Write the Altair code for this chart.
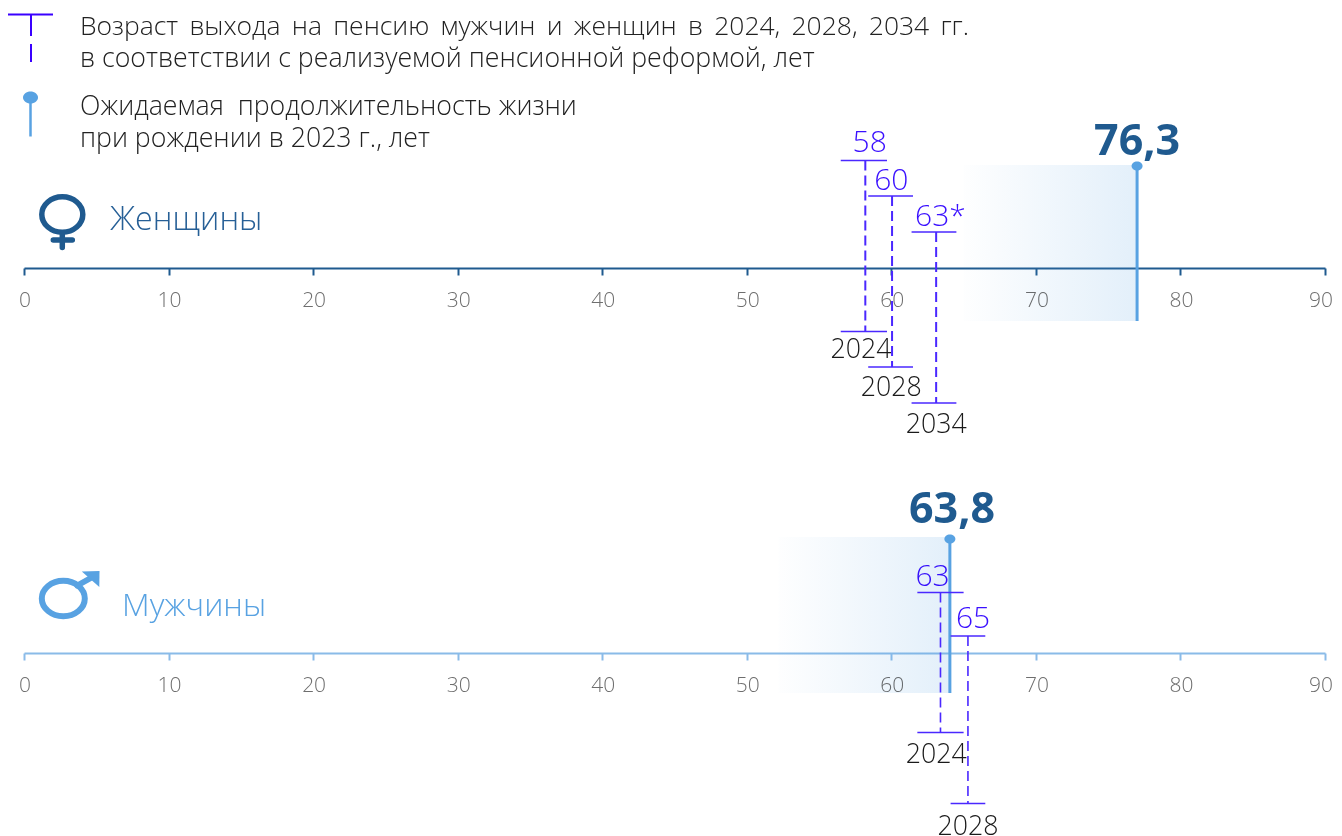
import altair as alt
import pandas as pd

# ---------- data ----------
AXIS_TICKS = [0, 10, 20, 30, 40, 50, 60, 70, 80]
LAST_TICK = [90]

female_retire_age = [58.2, 60.05, 63.1]
female_retire_cap_lo = [56.5, 58.4, 61.4]
female_retire_cap_hi = [59.7, 61.5, 64.5]
female_retire_labels = ["58", "60", "63*"]
female_retire_label_x = [58.5, 60.0, 63.4]
female_years = ["2024", "2028", "2034"]
female_year_x = [57.9, 60.0, 63.1]

male_retire_age = [63.4, 65.3]
male_retire_cap_lo = [61.8, 64.1]
male_retire_cap_hi = [65.0, 66.5]
male_retire_labels = ["63", "65"]
male_retire_label_x = [62.85, 65.65]
male_years = ["2024", "2028"]
male_year_x = [63.1, 65.3]

life_drawn_at = [77.0, 64.05]
life_labels = ["76,3", "63,8"]
life_label_x = [77.0, 64.2]
band_start = [65.0, 52.2]

SP = " \u2009"
LEGEND_1 = [SP.join(["Возраст", "выхода", "на", "пенсию", "мужчин", "и", "женщин", "в", "2024,", "2028,", "2034", "гг."]),
            "в соответствии с реализуемой пенсионной реформой, лет"]
LEGEND_2 = ["Ожидаемая\u00a0 продолжительность жизни", "при рождении в 2023 г., лет"]
GENDER = ["Женщины", "Мужчины"]

# ---------- style ----------
DARK = "#1F5A8F"
LIGHT = "#58A2E2"
AXIS_LIGHT = "#8ABBE8"
PURPLE = "#4A28FF"
PURPLE_TEXT = "#3A10FF"
TEXT_DARK = "#1A1A1A"
LEGEND_TEXT = "#222222"
FONT = "Open Sans"
X_SCALE = alt.Scale(domain=[0, 90], nice=False, zero=False)
NOAX = None
TICK_GREY = "#6E6E6E"
BLEND = "multiply"


def Y(v):
    return alt.value(v - 8)


def PX(v):
    return alt.value(v - 24)


def X(field="x"):
    return alt.X(f"{field}:Q", scale=X_SCALE, axis=NOAX)


def one(**kw):
    return alt.Chart(pd.DataFrame([kw]))


def free_text(s, x, y, size, color, weight=300):
    return alt.Chart(pd.DataFrame([{"t": s}])).mark_text(
        align="left", baseline="alphabetic", font=FONT, fontSize=size,
        fontWeight=weight, color=color, blend=BLEND
    ).encode(x=PX(x), y=Y(y), text="t:N")


def center_text(s, xv, y, size, color, weight=300, dx=0):
    return one(x=xv, t=s).mark_text(
        align="center", baseline="alphabetic", font=FONT, fontSize=size,
        fontWeight=weight, color=color, dx=dx, blend=BLEND
    ).encode(x=X(), y=Y(y), text="t:N")


def tick_labels(values, baseline_y, dx=1):
    return alt.Chart(pd.DataFrame({"x": values})).mark_text(
        align="center", baseline="alphabetic", font=FONT, fontSize=21,
        fontWeight=300, color=TICK_GREY, dx=dx, blend=BLEND
    ).encode(x=X(), y=Y(baseline_y), text="x:Q")


def axis_layer(color, axis_y):
    return alt.Chart(pd.DataFrame({"x": AXIS_TICKS + LAST_TICK})).mark_rule(opacity=0).encode(
        x=alt.X("x:Q", scale=X_SCALE, title=None, axis=alt.Axis(
            orient="bottom", offset=axis_y - 8 - 828, values=AXIS_TICKS + LAST_TICK, grid=False,
            domainColor=color, domainWidth=2, tickColor=color, tickWidth=2, tickSize=7,
            labels=False,
        )),
        y=alt.value(0),
    )


def ellipse(cx, cy, rx, ry):
    k = 0.5523
    return (f"M{cx-rx},{cy}C{cx-rx},{cy-k*ry},{cx-k*rx},{cy-ry},{cx},{cy-ry}"
            f"C{cx+k*rx},{cy-ry},{cx+rx},{cy-k*ry},{cx+rx},{cy}"
            f"C{cx+rx},{cy+k*ry},{cx+k*rx},{cy+ry},{cx},{cy+ry}"
            f"C{cx-k*rx},{cy+ry},{cx-rx},{cy+k*ry},{cx-rx},{cy}Z")


def icon(path, x, y, color, filled=False, sw=5.5):
    # path coordinates are pixels around the anchor: size 4 gives a unit scale
    props = dict(shape=path, size=4, opacity=1)
    if filled:
        props.update(filled=True, fill=color, stroke=None)
    else:
        props.update(filled=False, stroke=color, strokeWidth=sw, strokeCap="round")
    return alt.Chart(pd.DataFrame([{"a": 1}])).mark_point(**props).encode(x=PX(x), y=Y(y))


def band(start, end, top, bottom):
    grad = alt.Gradient(
        gradient="linear", x1=0, y1=0, x2=1, y2=0,
        stops=[alt.GradientStop(color="rgba(88,162,226,0.006)", offset=0),
               alt.GradientStop(color="rgba(88,162,226,0.17)", offset=1)],
    )
    return one(x=start, x2=end).mark_rect(fill=grad).encode(x=X(), x2="x2:Q", y=Y(top), y2=Y(bottom))


def life_line(xv, top, bottom):
    line = one(x=xv).mark_rule(color=LIGHT, strokeWidth=3).encode(x=X(), y=Y(top), y2=Y(bottom))
    dot = one(x=xv).mark_point(shape=ellipse(0, 0, 5.5, 4.5), size=4, filled=True, fill=LIGHT,
                               stroke=None, opacity=1).encode(x=X(), y=Y(top + 1))
    return [line, dot]


def retire(age, lo, hi, top, bottom, sw=2, dash=(10, 5)):
    out = []
    for yy in (top, bottom):
        out.append(one(x=lo, x2=hi).mark_rule(color=PURPLE, strokeWidth=1.7).encode(x=X(), x2="x2:Q", y=Y(yy)))
    out.append(one(x=age).mark_rule(color=PURPLE, strokeWidth=sw, strokeDash=list(dash)).encode(
        x=X(), y=Y(top), y2=Y(bottom)))
    return out


layers = []
layers += [band(band_start[0], life_drawn_at[0], 165, 321), band(band_start[1], life_drawn_at[1], 537, 693)]
layers += [axis_layer(DARK, 268), axis_layer(AXIS_LIGHT, 653)]
layers += [tick_labels(AXIS_TICKS, 307), tick_labels(AXIS_TICKS, 692)]
# the page ends 4px short of where the "90" would be centred
layers += [tick_labels(LAST_TICK, 307, dx=-4), tick_labels(LAST_TICK, 692, dx=-4)]
layers += life_line(life_drawn_at[0], 165, 321)
layers += life_line(life_drawn_at[1], 538, 693)

f_tops, f_bots = [160.5, 196, 232], [331.5, 367, 403]
f_lab_y, f_year_y = [152, 190, 226], [358, 396, 433]
for i in range(3):
    layers += retire(female_retire_age[i], female_retire_cap_lo[i], female_retire_cap_hi[i], f_tops[i], f_bots[i])
    layers.append(center_text(female_retire_labels[i], female_retire_label_x[i], f_lab_y[i], 30, PURPLE_TEXT))
    layers.append(center_text(female_years[i], female_year_x[i], f_year_y[i], 26.7, TEXT_DARK))

m_tops, m_bots = [592.5, 636], [732.5, 803.5]
m_lab_y, m_year_y = [586, 628], [763, 835]
for i in range(2):
    layers += retire(male_retire_age[i], male_retire_cap_lo[i], male_retire_cap_hi[i], m_tops[i], m_bots[i], sw=1.6)
    layers.append(center_text(male_retire_labels[i], male_retire_label_x[i], m_lab_y[i], 30, PURPLE_TEXT))
    layers.append(center_text(male_years[i], male_year_x[i], m_year_y[i], 26.7, TEXT_DARK))

layers.append(center_text(life_labels[0], life_label_x[0], 155, 43, DARK, 700))
layers.append(center_text(life_labels[1], life_label_x[1], 523, 43, DARK, 700))

# legend
LEG_SIZE = 26.7
layers.append(free_text(LEGEND_1[0], 80, 35, 26.45, LEGEND_TEXT))
layers.append(free_text(LEGEND_1[1], 80, 67, LEG_SIZE, LEGEND_TEXT))
layers.append(free_text(LEGEND_2[0], 80, 115, LEG_SIZE, LEGEND_TEXT))
layers.append(free_text(LEGEND_2[1], 80, 147, LEG_SIZE, LEGEND_TEXT))
LEG = "#3A00FF"
layers.append(alt.Chart(pd.DataFrame([{"a": 1}])).mark_rule(color=LEG, strokeWidth=2).encode(x=PX(8), x2=PX(53), y=Y(14.5)))
layers.append(alt.Chart(pd.DataFrame([{"a": 1}])).mark_rule(color=LEG, strokeWidth=2).encode(x=PX(31), y=Y(14.5), y2=Y(36)))
layers.append(alt.Chart(pd.DataFrame([{"a": 1}])).mark_rule(color=LEG, strokeWidth=2).encode(x=PX(31), y=Y(44), y2=Y(62)))
layers.append(alt.Chart(pd.DataFrame([{"a": 1}])).mark_rule(color=LIGHT, strokeWidth=2.5).encode(x=PX(30.5), y=Y(98), y2=Y(136.5)))
layers.append(icon(ellipse(0, 0, 7.5, 6), 30.5, 97.5, LIGHT, filled=True))

# gender captions and icons
layers.append(free_text(GENDER[0], 110, 230, 32.2, "#265F96"))
layers.append(free_text(GENDER[1], 122, 616, 32, "#58A2E2"))
female_path = ellipse(0, 0, 20.5, 17.7) + "M0,20V33M-9,25.5H10"
layers.append(icon(female_path, 62.3, 214.5, DARK))
male_path = ellipse(0, 0, 21.5, 17.7)
layers.append(icon(male_path, 63.3, 598.5, LIGHT, sw=6))
layers.append(icon("M14,-13L32,-23", 63.3, 598.5, LIGHT, sw=6))
layers.append(icon("M18.5,-27L36.2,-27.5L36,-11.5Z", 63.3, 598.5, LIGHT, filled=True))

chart = alt.layer(*layers).resolve_scale(x="shared").resolve_axis(x="independent").properties(
    width=1301, height=828,
    autosize=alt.AutoSizeParams(type="none"),
    padding={"left": 16, "right": 9, "top": 0, "bottom": 0},
    background="white",
).configure_view(stroke=None)

chart.save("out.html", embed_options={"renderer": "svg", "actions": False})
